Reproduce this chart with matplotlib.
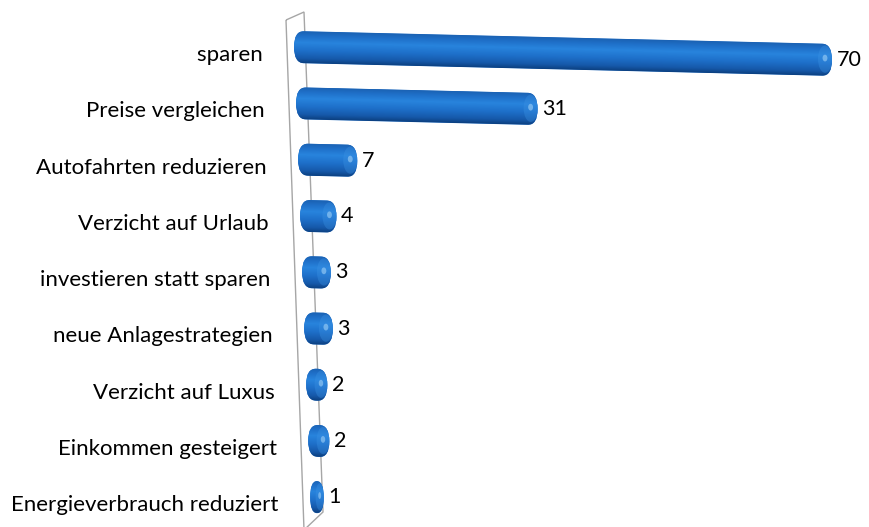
import matplotlib
matplotlib.use("Agg")
import numpy as np
import matplotlib.pyplot as plt
from matplotlib.patches import FancyBboxPatch, Polygon, Ellipse
from matplotlib.colors import LinearSegmentedColormap
from matplotlib.transforms import Affine2D

# survey answers, top to bottom
labels = ["sparen ", "Preise vergleichen ", "Autofahrten reduzieren ",
          "Verzicht auf Urlaub ", "investieren statt sparen ",
          "neue Anlagestrategien ", "Verzicht auf Luxus ",
          "Einkommen gesteigert ", "Energieverbrauch reduziert "]
values = [70, 31, 7, 4, 3, 3, 2, 2, 1]

plt.rcParams['font.family'] = ['Lato', 'DejaVu Sans']

fig = plt.figure(figsize=(8.69, 5.27), dpi=100)
ax = fig.add_axes([0, 0, 1, 1])
ax.set_autoscale_on(False)
PX_X = 7.6      # pixels per value unit
PX_Y = 56.25    # pixels per row
XLIM = (-294 / PX_X, (869 - 294) / PX_X)
YLIM = ((527 - 47) / PX_Y, -47 / PX_Y)
ax.axis('off')

skew = 0.266          # perspective shift of bar start per row (value units)
tilt = 0.024 * PX_X / PX_Y   # bars drift down to the right
bar_h = 32 / PX_Y
cap = 10 / PX_X
extra = 6 / PX_X      # cylinder end caps add a little length

tube = LinearSegmentedColormap.from_list('tube', [
    (0.0, '#1b62b3'), (0.15, '#1f70c9'), (0.35, '#2884dd'),
    (0.6, '#1e70ca'), (0.85, '#1659aa'), (1.0, '#0c4080')])
grad = np.linspace(0, 1, 64).reshape(-1, 1)

# back wall of the 3D plot
wall = Polygon([(-8 / PX_X, -27 / PX_Y), (10 / PX_X, -35 / PX_Y),
                (29 / PX_X, 465 / PX_Y), (10 / PX_X, 483 / PX_Y)],
               closed=True, fill=False, edgecolor='#a6a6a6', lw=1.0, zorder=1)
ax.add_patch(wall)


def capsule(x, y, w, h, tr, **kw):
    r = min(cap, w / 2) * 0.999
    a = (h / 2) / r
    p = FancyBboxPatch((x, y), w, h, boxstyle=f"round,pad=0,rounding_size={r}",
                       mutation_aspect=a, transform=tr, lw=0, **kw)
    ax.add_patch(p)
    return p


for i, (lab, v) in enumerate(zip(labels, values)):
    x0 = skew * i
    w = v + extra
    tr = Affine2D([[1, 0, 0], [tilt, 1, -tilt * x0], [0, 0, 1]]) + ax.transData
    top = i - bar_h / 2
    body = capsule(x0, top, w, bar_h, tr, facecolor='#1d6cc4', zorder=3)
    im = ax.imshow(grad, cmap=tube, aspect='auto', origin='upper',
                   extent=[x0, x0 + w, top + bar_h, top],
                   interpolation='bilinear', zorder=4)
    im.set_transform(tr)
    im.set_clip_path(body)
    # lit end cap of the tube
    cw = min(cap * 1.4, w * 0.6)
    ax.add_patch(Ellipse((x0 + w - cw / 2, i - 0.01), cw, bar_h * 0.85,
                         transform=tr, facecolor='#3c93e4', alpha=0.35,
                         lw=0, zorder=5))
    ax.add_patch(Ellipse((x0 + w - cw / 2, i - 0.03), cw * 0.35, 0.12,
                         transform=tr, facecolor='#9fd0f7', alpha=0.6,
                         lw=0, zorder=6))
    ax.text(x0 + w + 0.6, i + 0.1, str(v), transform=tr, ha='left',
            va='baseline', fontsize=15.5, color='black', zorder=7)
    ax.text(x0 - 3.4, i + 0.25, lab, ha='right', va='baseline',
            fontsize=16, color='black')

ax.set_xlim(*XLIM)
ax.set_ylim(*YLIM)
fig.savefig('out.png', dpi=100, facecolor='white')
